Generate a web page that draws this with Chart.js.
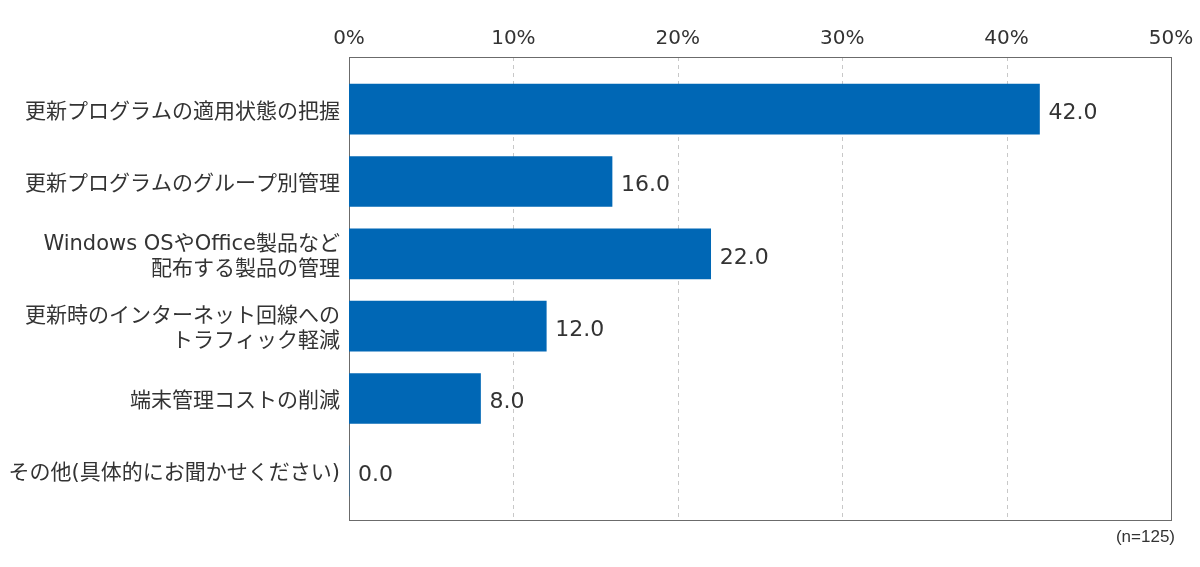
<!DOCTYPE html>
<html>
<head>
<meta charset="utf-8">
<script src="https://cdn.jsdelivr.net/npm/chart.js@4"></script>
<style>
  html, body { margin: 0; padding: 0; background: #fff; }
  #wrap { width: 1200px; height: 567px; position: relative; }
</style>
</head>
<body>
<div id="wrap"><canvas id="chart"></canvas></div>
<script>
const categories = [
    '更新プログラムの適用状態の把握',
    '更新プログラムのグループ別管理',
    ['Windows OSやOffice製品など', '配布する製品の管理'],
    ['更新時のインターネット回線への', 'トラフィック軽減'],
    '端末管理コストの削減',
    'その他(具体的にお聞かせください)',
];
const values = [42.0, 16.0, 22.0, 12.0, 8.0, 0.0];
const tickValues = [0, 10, 20, 30, 40, 50];
const sampleNote = '(n=125)';

const jpFont = "'DejaVu Sans', 'Noto Sans CJK JP', sans-serif";

// frame, dashed grid and notes drawn around the chart area
const framePlugin = {
    id: 'frame',
    beforeDatasetsDraw(chart) {
        const ctx = chart.ctx;
        const x = chart.scales.x;
        const top = chart.chartArea.top - 16;
        const bottom = chart.chartArea.bottom + 13;
        ctx.save();
        ctx.strokeStyle = '#c8c8c8';
        ctx.lineWidth = 1;
        ctx.setLineDash([4, 4]);
        tickValues.slice(1, -1).forEach(v => {
            const px = Math.round(x.getPixelForValue(v)) + 0.5;
            ctx.beginPath();
            ctx.moveTo(px, top);
            ctx.lineTo(px, bottom);
            ctx.stroke();
        });
        ctx.setLineDash([]);
        ctx.strokeStyle = '#6b6b6b';
        const l = Math.round(x.getPixelForValue(0)) + 0.5;
        const r = Math.round(x.getPixelForValue(50)) + 0.5;
        ctx.strokeRect(l, top + 0.5, r - l, bottom - top);
        ctx.restore();
    },
    afterDatasetsDraw(chart) {
        const ctx = chart.ctx;
        ctx.save();
        ctx.font = '22px ' + jpFont;
        ctx.fillStyle = '#333';
        ctx.textAlign = 'left';
        ctx.textBaseline = 'middle';
        chart.getDatasetMeta(0).data.forEach((bar, i) => {
            ctx.fillText(values[i].toFixed(1), bar.x + 9, bar.y + 4);
        });
        ctx.font = "17px 'Liberation Sans Narrow', 'Liberation Sans', sans-serif";
        ctx.textAlign = 'right';
        ctx.fillText(sampleNote, chart.chartArea.right + 4, chart.chartArea.bottom + 30);
        ctx.restore();
    },
};

new Chart(document.getElementById('chart').getContext('2d'), {
    type: 'bar',
    data: {
        labels: categories,
        datasets: [
            {
                data: values,
                backgroundColor: '#0067b5',
                borderWidth: 0,
                barThickness: 50,
            },
        ],
    },
    options: {
        indexAxis: 'y',
        responsive: true,
        maintainAspectRatio: false,
        animation: false,
        layout: {
            padding: { top: 0, left: 0, right: 29, bottom: 60 },
        },
        plugins: {
            legend: { display: false },
            tooltip: { enabled: false },
        },
        scales: {
            x: {
                position: 'top',
                min: 0,
                max: 50,
                afterFit: s => {
                    s.height = 73;
                    s.paddingLeft = 0;
                    s.paddingRight = 0;
                },
                afterBuildTicks: s => { s.ticks = tickValues.map(v => ({ value: v })); },
                ticks: {
                    padding: 22,
                    color: '#333',
                    font: { size: 20, family: jpFont },
                    callback: v => v + '%',
                },
                grid: { display: false, drawTicks: false },
                border: { display: false },
            },
            y: {
                afterFit: s => { s.width = 349; },
                ticks: {
                    padding: 9,
                    labelOffset: 3,
                    color: '#333',
                    font: { size: 21, family: jpFont, lineHeight: 1.2 },
                },
                grid: { display: false, drawTicks: false },
                border: { display: false },
            },
        },
    },
    plugins: [framePlugin],
});
</script>
</body>
</html>
